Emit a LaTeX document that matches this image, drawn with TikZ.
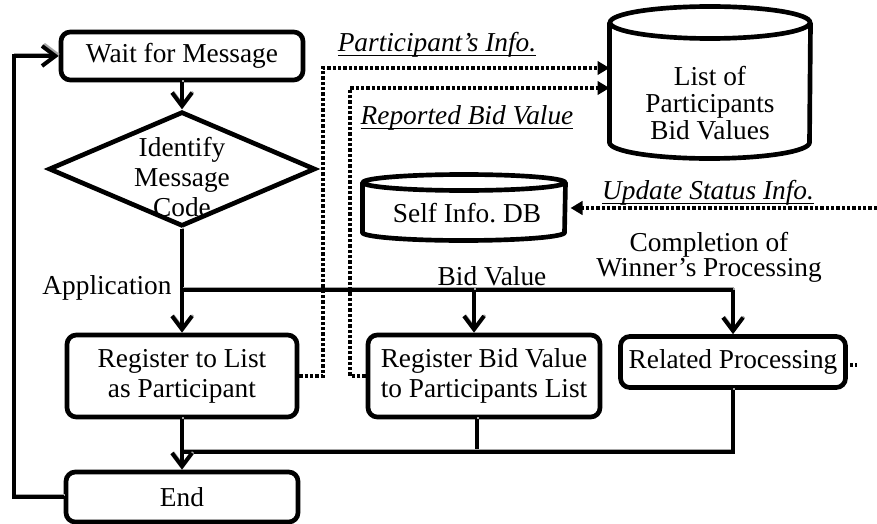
\documentclass[tikz,border=0pt]{standalone}
\usepackage{fontspec}
\setmainfont{Liberation Serif}
\usetikzlibrary{arrows.meta,shapes.geometric,calc}
\frenchspacing

\newcommand{\ultxt}[1]{\setbox0\hbox{#1}\leavevmode\rlap{\rule[-3.5pt]{\wd0}{1.3pt}}\box0}

\tikzset{every picture/.style={line width=0.75pt}}
\tikzset{
  procbox/.style={draw, rounded corners=7pt, line width=3.5pt, align=center, inner sep=0pt},
  decbox/.style={draw, diamond, line width=3.5pt, inner sep=0pt},
  dbbody/.style={inner sep=0pt},
  dbline/.style={line width=3.5pt},
  txt/.style={inner sep=0.75pt, align=center},
  flow/.style={line width=3pt, preaction={draw=black!35, line width=2pt, transform canvas={shift={(1,2)}}}},
  flowarrow/.style={flow, -{Straight Barb[length=10pt,width=15pt]}},
  dataline/.style={line width=3pt, dash pattern=on 2.5pt off 1.5pt},
  dataarrow/.style={dataline, -{Triangle[length=9pt,width=10pt]}},
}

\begin{document}
\begin{tikzpicture}[x=0.75pt,y=0.75pt,yscale=-1,xscale=1,font=\fontsize{20.5}{22.5}\selectfont]
    \useasboundingbox (0,0) rectangle (877,524);

    %Shape: Rectangle [id:wait]
    \node[procbox, minimum width=181.5pt, minimum height=36pt] (wait) at (182,56) {Wait for Message};
    %Shape: Diamond [id:ident]
    \node[decbox, minimum width=200pt, minimum height=86pt] (ident) at (182,169) {};
    %Shape: Rectangle [id:reglist]
    \node[procbox, minimum width=172.5pt, minimum height=61.5pt] (reglist) at (182,376) {Register to List\\as Participant};
    %Shape: Rectangle [id:regbid]
    \node[procbox, minimum width=174pt, minimum height=61.5pt] (regbid) at (484,376) {Register Bid Value\\to Participants List};
    %Shape: Rectangle [id:relproc]
    \node[procbox, minimum width=168.75pt, minimum height=38.25pt] (relproc) at (733,362) {Related Processing};
    %Shape: Rectangle [id:endbox]
    \node[procbox, minimum width=174pt, minimum height=37.5pt] (endbox) at (182,497) {End};

    %Shape: Can [id:partlist]
    \node[dbbody, minimum width=150pt, minimum height=113.25pt] (partlist) at (710,82.5) {};
    \draw[dbline] ($(partlist.north west)+(0,16)$) -- ($(partlist.south west)+(0,-16)$) arc (180:0:100 and 16) -- ($(partlist.north east)+(0,16)$);
    \draw[dbline] ($(partlist.north)+(0,16)$) ellipse (100 and 16);
    %Shape: Can [id:selfdb]
    \node[dbbody, minimum width=151.5pt, minimum height=48.75pt] (selfdb) at (464,207.5) {};
    \draw[dbline] ($(selfdb.north west)+(0,8)$) -- ($(selfdb.south west)+(0,-8)$) arc (180:0:101 and 8) -- ($(selfdb.north east)+(0,8)$);
    \draw[dbline] ($(selfdb.north)+(0,8)$) ellipse (101 and 8);

    \coordinate (split) at (182,290);
    \coordinate (splitend) at (733,290);
    \coordinate (bidin) at (474,290);
    \coordinate (bidout) at (477,452);
    \coordinate (merge) at (182,452);
    \coordinate (loopx) at (14,0);
    \coordinate (infoturn) at (323,68);
    \coordinate (bidturn) at (350,88);
    \coordinate (statusin) at (877,208);
    \coordinate (stubstart) at (850,365);
    \coordinate (stubend) at (857,365);

    %Straight Lines
    \draw[flowarrow] (wait) -- (ident);
    \draw[flowarrow] (ident.south) -- (reglist.north);
    \draw[flow] (split) -- (splitend);
    \draw[flowarrow] (splitend) -- (relproc.north);
    \draw[flowarrow] (bidin) -- (bidin |- regbid.north);
    \draw[flow] (bidout |- regbid.south) -- (bidout);
    \draw[flow] (relproc.south) |- (merge);
    \draw[flowarrow] (reglist.south) -- (endbox.north);
    \draw[flowarrow] (endbox.west) -- (endbox.west -| loopx) |- (wait.west);

    %Dotted Lines
    \draw[dataarrow] (reglist.east) -| (infoturn) -- (infoturn -| partlist.west);
    \draw[dataarrow] (regbid.west) -| (bidturn) -- (bidturn -| partlist.west);
    \draw[dataarrow] (statusin) -- ($(statusin -| selfdb.east)+(5,0)$);
    \draw[dataline] (stubstart) -- (stubend);

    % Text Node
    \node[txt, font=\fontsize{20.5}{22.5}\selectfont] (identtxt) at (182,177) {Identify\\Message\\Code};
    % Text Node
    \node[txt, font=\fontsize{20.5}{20.5}\selectfont] (partlisttxt) at (710,103) {List of\\Participants\\Bid Values};
    % Text Node
    \node[txt] (selfdbtxt) at (467,213) {Self Info. DB};
    % Text Node
    \node[txt] (infolbl) at (437,45) {\ultxt{\textit{Participant’s Info.}}};
    % Text Node
    \node[txt] (bidlbl) at (467,118) {\ultxt{\textit{Reported Bid Value}}};
    % Text Node
    \node[txt] (statuslbl) at (708,193) {\ultxt{\textit{Update Status Info.}}};
    % Text Node
    \node[txt, font=\fontsize{20.5}{19}\selectfont] (winlbl) at (709,257) {Completion of\\Winner’s Processing};
    % Text Node
    \node[txt] (bidvlbl) at (492,276) {Bid Value};
    % Text Node
    \node[txt] (applbl) at (107,288) {Application};

\end{tikzpicture}
\end{document}
